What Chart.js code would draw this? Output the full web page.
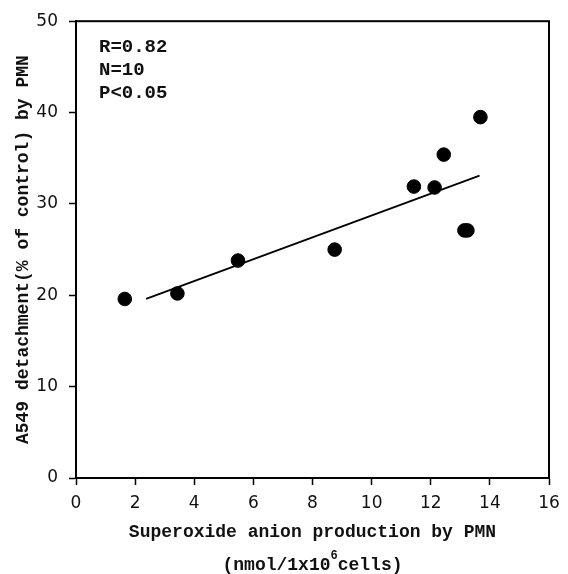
<!DOCTYPE html>
<html>
<head>
<meta charset="utf-8">
<script src="https://cdn.jsdelivr.net/npm/chart.js@4"></script>
<style>
html,body{margin:0;padding:0;background:#fff;}
#wrap{width:568px;height:574px;position:relative;}
</style>
</head>
<body>
<div id="wrap"><canvas id="c" width="568" height="574"></canvas></div>
<script>
// Data
const superoxide = [1.65, 3.43, 5.48, 8.75, 11.43, 12.13, 12.44, 13.14, 13.24, 13.68];
const detachment = [19.6, 20.2, 23.8, 25.0, 31.9, 31.8, 35.4, 27.1, 27.1, 39.5];
const fitX = [2.37, 13.65];
const fitY = [19.6, 33.1];
const xTicks = [0, 2, 4, 6, 8, 10, 12, 14, 16];
const yTicks = [0, 10, 20, 30, 40, 50];
const statLines = ['R=0.82', 'N=10', 'P<0.05'];
const yTitle = 'A549 detachment(% of control) by PMN';
const xTitleLine1 = 'Superoxide anion production by PMN';
const xTitleLine2 = ['(nmol/1x10', '6', 'cells)'];

const titleFont = 'bold 18px "Liberation Mono", monospace';

const textPlugin = {
  id: 'texts',
  afterDraw(chart) {
    const ctx = chart.ctx;
    const a = chart.chartArea;
    ctx.save();
    // frame
    ctx.strokeStyle = '#000';
    ctx.lineWidth = 2;
    ctx.strokeRect(a.left, a.top, a.right - a.left, a.bottom - a.top);
    ctx.fillStyle = '#111';
    // stats
    ctx.font = 'bold 19px "Liberation Mono", monospace';
    ctx.textAlign = 'left';
    ctx.textBaseline = 'middle';
    statLines.forEach((t, i) => ctx.fillText(t, 99, 47 + i * 23));
    // x title
    ctx.font = titleFont;
    const cx = (a.left + a.right) / 2;
    ctx.textAlign = 'center';
    ctx.fillText(xTitleLine1, cx, 532);
    const w1 = ctx.measureText(xTitleLine2[0]).width;
    const w3 = ctx.measureText(xTitleLine2[2]).width;
    ctx.font = 'bold 12px "Liberation Mono", monospace';
    const w2 = ctx.measureText(xTitleLine2[1]).width;
    const total = w1 + w2 + w3;
    let x0 = cx - total / 2;
    ctx.textAlign = 'left';
    ctx.font = titleFont;
    ctx.fillText(xTitleLine2[0], x0, 565);
    ctx.font = 'bold 12px "Liberation Mono", monospace';
    ctx.fillText(xTitleLine2[1], x0 + w1, 556);
    ctx.font = titleFont;
    ctx.fillText(xTitleLine2[2], x0 + w1 + w2, 565);
    // y title
    ctx.translate(23, (a.top + a.bottom) / 2);
    ctx.rotate(-Math.PI / 2);
    ctx.textAlign = 'center';
    ctx.fillText(yTitle, 0, 0);
    ctx.restore();
  }
};

new Chart(document.getElementById('c'), {
  type: 'scatter',
  data: {
    datasets: [
      {
        label: 'points',
        data: superoxide.map((x, i) => ({x: x, y: detachment[i]})),
        backgroundColor: '#000',
        borderColor: '#000',
        pointRadius: 6.8,
        pointHoverRadius: 6.8,
        order: 1
      },
      {
        type: 'line',
        label: 'fit',
        data: fitX.map((x, i) => ({x: x, y: fitY[i]})),
        borderColor: '#000',
        borderWidth: 1.8,
        pointRadius: 0,
        fill: false,
        order: 2
      }
    ]
  },
  options: {
    responsive: false,
    animation: false,
    events: [],
    layout: {padding: {left: 0, top: 13, right: 19, bottom: 0}},
    plugins: {legend: {display: false}, tooltip: {enabled: false}},
    scales: {
      x: {
        type: 'linear',
        min: 0, max: 16,
        afterFit(s) { s.height = 96; },
        afterBuildTicks(s) { s.ticks = xTicks.map(v => ({value: v})); },
        border: {display: true, color: '#000', width: 2},
        grid: {display: true, drawOnChartArea: false, drawTicks: true, tickLength: 7, tickColor: '#000', tickWidth: 1.5},
        ticks: {color: '#111', padding: 8, font: {family: '"DejaVu Sans"', size: 17}, maxRotation: 0, autoSkip: false}
      },
      y: {
        type: 'linear',
        min: 0, max: 50,
        afterFit(s) { s.width = 76; },
        afterBuildTicks(s) { s.ticks = yTicks.map(v => ({value: v})); },
        border: {display: true, color: '#000', width: 2},
        grid: {display: true, drawOnChartArea: false, drawTicks: true, tickLength: 7, tickColor: '#000', tickWidth: 1.5},
        ticks: {color: '#111', padding: 11, font: {family: '"DejaVu Sans"', size: 17}, autoSkip: false}
      }
    }
  },
  plugins: [textPlugin]
});
</script>
</body>
</html>
